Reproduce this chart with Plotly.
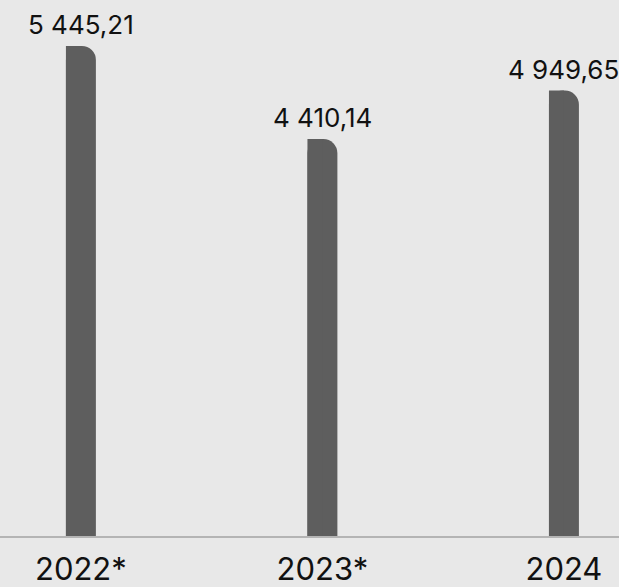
import plotly.graph_objects as go

years = ['2022*', '2023*', '2024']
values = [5445.21, 4410.14, 4949.65]
labels = ['5 445,21', '4 410,14', '4 949,65']

bar_color = '#5e5e5e'
bg = '#e8e8e8'
xs = list(range(len(years)))
w = 0.124

fig = go.Figure()
# full bar with rounded top corners
fig.add_trace(go.Bar(x=xs, y=values, width=w, offset=-w / 2,
                     marker=dict(color=bar_color, cornerradius=15, line_width=0),
                     hoverinfo='skip'))
# left half without rounding -> only the top-right corner stays rounded
fig.add_trace(go.Bar(x=xs, y=values, width=w / 2, offset=-w / 2,
                     marker=dict(color=bar_color, line_width=0),
                     hoverinfo='skip'))

for x, v, t in zip(xs, values, labels):
    fig.add_annotation(x=x, y=v, text=t, showarrow=False, yanchor='bottom',
                       yshift=4, font=dict(size=26, color='#111111', family='Inter'))

fig.update_layout(
    width=619, height=587,
    margin=dict(l=0, r=0, t=0, b=51),
    paper_bgcolor=bg, plot_bgcolor=bg,
    barmode='overlay', showlegend=False,
    font=dict(family='Inter', color='#111111'),
)
fig.update_xaxes(range=[-0.335, 2.228], tickvals=xs, ticktext=years,
                 tickfont=dict(size=31), showgrid=False, zeroline=False,
                 showline=True, linecolor='#b4b4b4', linewidth=2, ticks='',
                 ticklabelstandoff=5)
fig.update_yaxes(range=[0, 5956], visible=False, showgrid=False, zeroline=False)

fig.write_html('out.html', config={'displayModeBar': False},
               post_script="document.body.style.margin='0';")
